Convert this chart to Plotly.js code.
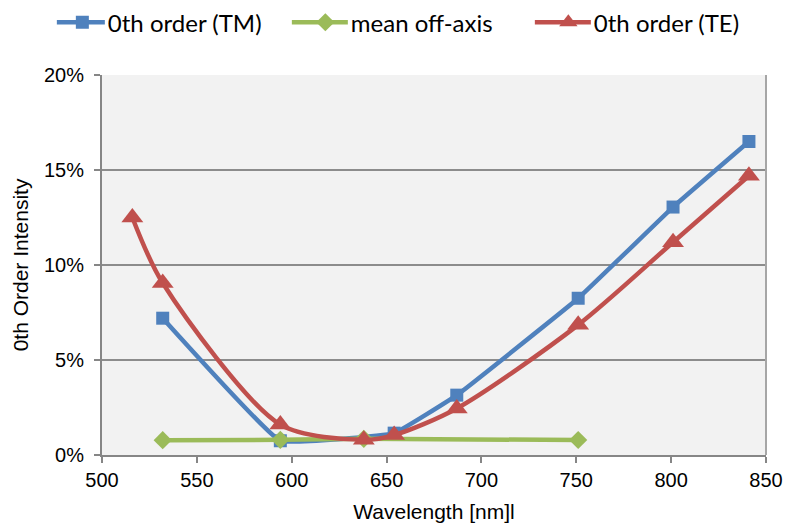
<!DOCTYPE html>
<html><head><meta charset="utf-8">
<script src="https://cdn.plot.ly/plotly-3.0.1.min.js"></script>
<style>html,body{margin:0;padding:0;background:#fff}</style>
</head><body><div id="chart" style="width:801px;height:529px"></div>
<script>
const tmWavelength = [532, 594, 654, 687, 751, 801, 841];
const tmIntensity = [0.072, 0.0075, 0.0115, 0.0315, 0.0825, 0.1305, 0.165];
const offWavelength = [532, 594, 638, 751];
const offIntensity = [0.0078, 0.008, 0.0085, 0.0079];
const teWavelength = [516, 532, 594, 638, 654, 687, 751, 801, 841];
const teIntensity = [0.125, 0.0905, 0.016, 0.008, 0.0105, 0.0245, 0.0685, 0.112, 0.147];
const xTicks = [500, 550, 600, 650, 700, 750, 800, 850];
const yTicks = [0, 0.05, 0.10, 0.15, 0.20];
const yTickText = ['0%', '5%', '10%', '15%', '20%'];

const traces = [
  {x: tmWavelength, y: tmIntensity, name: '0th order (TM)', mode: 'lines+markers',
   line: {color: '#4F81BD', width: 4.5, shape: 'spline', smoothing: 0.25},
   marker: {symbol: 'square', size: 13, color: '#4F81BD'}},
  {x: offWavelength, y: offIntensity, name: 'mean off-axis', mode: 'lines+markers',
   line: {color: '#9BBB59', width: 4.5, shape: 'spline', smoothing: 0.5},
   marker: {symbol: 'diamond', size: 14, color: '#9BBB59'}},
  {x: teWavelength, y: teIntensity, name: '0th order (TE)', mode: 'lines+markers',
   line: {color: '#C0504D', width: 4.5, shape: 'spline', smoothing: 0.8},
   marker: {symbol: 'triangle-up', size: 19, color: '#C0504D'}}
];

const layout = {
  width: 801, height: 529,
  margin: {l: 102, r: 35, t: 75, b: 74, autoexpand: false},
  paper_bgcolor: '#ffffff', plot_bgcolor: '#f2f2f2',
  font: {family: 'Liberation Sans', size: 20, color: '#000'},
  showlegend: true,
  legend: {orientation: 'h', x: -0.068, xanchor: 'left', y: 1.197, yanchor: 'top',
    itemwidth: 41, entrywidth: 187, tracegroupgap: 0,
    font: {family: 'Lato', size: 24, color: '#000'}, bgcolor: 'rgba(0,0,0,0)'},
  xaxis: {range: [500, 850], tickvals: xTicks, ticktext: xTicks.map(String),
    showgrid: false, zeroline: false, showline: true, linecolor: '#868686', linewidth: 2,
    ticks: 'outside', ticklen: 6, tickcolor: '#868686', tickwidth: 2,
    tickfont: {size: 20},
    title: {text: 'Wavelength [nm]l', font: {size: 21}, standoff: 14}},
  yaxis: {range: [0, 0.20], tickvals: yTicks, ticktext: yTickText,
    showgrid: true, gridcolor: '#8c8c8c', gridwidth: 1.5, zeroline: false,
    showline: true, linecolor: '#868686', linewidth: 2,
    ticks: 'outside', ticklen: 6, tickcolor: '#868686', tickwidth: 2,
    tickfont: {size: 20}, ticklabelstandoff: 6,
    title: {text: '0th Order Intensity', font: {size: 21}, standoff: 10}},
  shapes: [{type: 'line', xref: 'paper', yref: 'paper', x0: 1, x1: 1, y0: 0, y1: 1,
    line: {color: '#a6a6a6', width: 2}}]
};
Plotly.newPlot('chart', traces, layout, {staticPlot: true}).then(function (gd) {
  // lengthen the legend line samples to match the reference
  gd.querySelectorAll('.legend .legendlines path').forEach(function (p) {
    p.setAttribute('d', 'M-8,0h56');
  });
});
</script></body></html>
